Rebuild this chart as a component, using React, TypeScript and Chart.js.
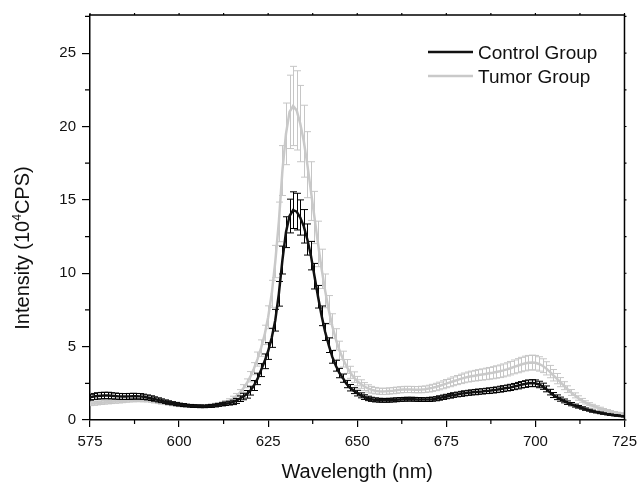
import React, { useEffect, useRef } from "react";
import { Chart, registerables } from "chart.js";

Chart.register(...registerables);

const WL_START = 575;
const WL_END = 725;
const wavelengths: number[] = Array.from({ length: WL_END - WL_START + 1 }, (_, i) => WL_START + i);

const controlMean: number[] = [
  1.55, 1.6, 1.64, 1.66, 1.67, 1.67, 1.65, 1.63, 1.61, 1.6, 1.6, 1.61, 1.62, 1.62, 1.61, 1.58,
  1.54, 1.49, 1.43, 1.37, 1.31, 1.25, 1.19, 1.14, 1.09, 1.05, 1.02, 0.99, 0.97, 0.95, 0.94, 0.93, 0.93, 0.94, 0.96, 0.99,
  1.03, 1.07, 1.11, 1.15, 1.2, 1.3, 1.45, 1.6, 1.75, 2.0,
  2.35, 2.8, 3.4, 4.0, 4.7, 5.6, 6.8, 8.6, 10.9, 12.8, 13.9,
  14.3, 14.2, 13.8, 13.2, 12.3, 11.2, 9.8, 8.4, 7.1,
  6.0, 5.1, 4.3, 3.7, 3.2, 2.85, 2.45, 2.2, 2.0, 1.83,
  1.68, 1.56, 1.47, 1.41, 1.37, 1.35, 1.34, 1.34, 1.35, 1.36, 1.38, 1.4, 1.41, 1.42, 1.42, 1.41, 1.4, 1.39, 1.39, 1.4,
  1.42, 1.45, 1.5, 1.55, 1.6, 1.65, 1.7, 1.74, 1.78, 1.82, 1.85, 1.88, 1.9, 1.93, 1.95, 1.98, 2.0, 2.03, 2.06, 2.1,
  2.14, 2.18, 2.22, 2.28, 2.34, 2.4, 2.45, 2.5, 2.52, 2.5,
  2.42, 2.3, 2.12, 1.9, 1.7, 1.55, 1.42, 1.3, 1.18, 1.08,
  0.98, 0.9, 0.82, 0.74, 0.67, 0.6, 0.54, 0.49, 0.44, 0.4, 0.36, 0.33, 0.3, 0.27, 0.25,
];

const controlErr: number[] = [
  0.2, 0.21, 0.22, 0.22, 0.22, 0.22, 0.21, 0.21, 0.2, 0.2, 0.2, 0.2, 0.2, 0.19, 0.19, 0.18,
  0.17, 0.16, 0.15, 0.14, 0.13, 0.12, 0.12, 0.11, 0.11, 0.1, 0.1, 0.09, 0.09, 0.09, 0.09, 0.09, 0.09, 0.09, 0.1, 0.1,
  0.1, 0.11, 0.12, 0.13, 0.15, 0.17, 0.19, 0.22, 0.26, 0.3,
  0.34, 0.39, 0.44, 0.5, 0.57, 0.65, 0.74, 0.84, 0.95, 1.05, 1.15,
  1.25, 1.25, 1.2, 1.14, 1.06, 0.97, 0.87, 0.77, 0.67,
  0.58, 0.5, 0.43, 0.37, 0.32, 0.28, 0.25, 0.22, 0.2, 0.19,
  0.17, 0.16, 0.15, 0.14, 0.14, 0.13, 0.13, 0.13, 0.13, 0.13, 0.13, 0.13, 0.13, 0.13, 0.13, 0.13, 0.13, 0.13, 0.13, 0.14,
  0.14, 0.14, 0.15, 0.15, 0.15, 0.16, 0.16, 0.16, 0.17, 0.17, 0.17, 0.17, 0.18, 0.18, 0.18, 0.18, 0.19, 0.19, 0.19, 0.2,
  0.2, 0.2, 0.21, 0.21, 0.22, 0.22, 0.23, 0.23, 0.23, 0.23,
  0.22, 0.21, 0.2, 0.19, 0.17, 0.16, 0.14, 0.13, 0.12, 0.11,
  0.1, 0.09, 0.08, 0.08, 0.07, 0.07, 0.06, 0.06, 0.05, 0.05, 0.05, 0.04, 0.04, 0.04, 0.04,
];

const tumorMean: number[] = [
  1.1, 1.12, 1.15, 1.18, 1.2, 1.22, 1.24, 1.26, 1.28, 1.3, 1.32, 1.34, 1.35, 1.36, 1.36, 1.35,
  1.33, 1.3, 1.26, 1.22, 1.18, 1.14, 1.1, 1.06, 1.03, 1.0, 0.98, 0.96, 0.95, 0.94, 0.94, 0.94, 0.95, 0.97, 1.0, 1.04,
  1.07, 1.12, 1.2, 1.3, 1.45, 1.62, 1.85, 2.15, 2.5, 2.95,
  3.5, 4.15, 4.9, 5.8, 7.0, 8.6, 10.8, 13.5, 17.0, 19.5, 21.0,
  21.4, 21.1, 20.2, 19.0, 17.4, 15.6, 13.8, 12.0, 10.3,
  8.8, 7.5, 6.4, 5.5, 4.75, 4.15, 3.65, 3.25, 2.92, 2.65,
  2.45, 2.28, 2.15, 2.06, 2.0, 1.96, 1.95, 1.96, 1.98, 2.0, 2.03, 2.06, 2.08, 2.08, 2.08, 2.07, 2.07, 2.08, 2.1, 2.14,
  2.19, 2.25, 2.32, 2.4, 2.48, 2.56, 2.64, 2.72, 2.8, 2.87, 2.93, 2.98, 3.02, 3.06, 3.1, 3.14, 3.18, 3.22, 3.27, 3.32,
  3.38, 3.45, 3.53, 3.62, 3.7, 3.78, 3.85, 3.9, 3.92, 3.9,
  3.82, 3.7, 3.52, 3.3, 3.05, 2.82, 2.58, 2.34, 2.1, 1.88,
  1.68, 1.5, 1.34, 1.2, 1.08, 0.98, 0.89, 0.8, 0.72, 0.65, 0.59, 0.53, 0.48, 0.44, 0.4,
];

const tumorErr: number[] = [
  0.12, 0.12, 0.12, 0.12, 0.12, 0.12, 0.12, 0.12, 0.12, 0.12, 0.11, 0.11, 0.11, 0.11, 0.11, 0.11,
  0.1, 0.1, 0.1, 0.1, 0.1, 0.09, 0.09, 0.09, 0.09, 0.09, 0.09, 0.09, 0.08, 0.08, 0.08, 0.08, 0.08, 0.09, 0.09, 0.1,
  0.11, 0.12, 0.13, 0.15, 0.17, 0.19, 0.22, 0.26, 0.3, 0.35,
  0.41, 0.48, 0.56, 0.66, 0.78, 0.92, 1.1, 1.35, 1.7, 2.1, 2.5,
  2.7, 2.7, 2.6, 2.45, 2.25, 2.0, 1.78, 1.55, 1.34,
  1.15, 0.98, 0.84, 0.72, 0.62, 0.54, 0.47, 0.41, 0.36, 0.32,
  0.29, 0.27, 0.25, 0.23, 0.22, 0.21, 0.21, 0.21, 0.21, 0.21, 0.21, 0.21, 0.21, 0.21, 0.21, 0.21, 0.21, 0.22, 0.22, 0.23,
  0.24, 0.25, 0.26, 0.27, 0.28, 0.29, 0.3, 0.31, 0.32, 0.33, 0.34, 0.35, 0.36, 0.37, 0.38, 0.39, 0.4, 0.41, 0.42, 0.43,
  0.44, 0.45, 0.46, 0.47, 0.48, 0.49, 0.5, 0.5, 0.5, 0.5,
  0.49, 0.47, 0.45, 0.42, 0.39, 0.35, 0.31, 0.27, 0.23, 0.2,
  0.17, 0.15, 0.13, 0.11, 0.1, 0.09, 0.08, 0.07, 0.06, 0.06, 0.05, 0.05, 0.05, 0.05, 0.05,
];

const xMajorTicks = [575, 600, 625, 650, 675, 700, 725];
const xMinorTicks = [587.5, 612.5, 637.5, 662.5, 687.5, 712.5];
const yMajorTicks = [0, 5, 10, 15, 20, 25];
const yMinorTicks = [2.5, 7.5, 12.5, 17.5, 22.5, 27.5];
const seriesNames = ["Control Group", "Tumor Group"];
const xTitle = "Wavelength (nm)";

const FONT = "'Liberation Sans', Arial, Helvetica, sans-serif";
const CONTROL_COLOR = "#111111";
const TUMOR_COLOR = "#c9c9c9";

export default function App() {
  const ref = useRef<HTMLCanvasElement>(null);

  useEffect(() => {
    const canvas = ref.current;
    if (!canvas) return;

    const errorsByLabel: Record<string, number[]> = {
      [seriesNames[0]]: controlErr,
      [seriesNames[1]]: tumorErr,
    };

    const errorPlugin = {
      id: "errorBars",
      beforeDatasetDraw(chart: any, args: any) {
        const ds = chart.data.datasets[args.index];
        const errs = errorsByLabel[ds.label];
        if (!errs) return;
        const xs = chart.scales.x;
        const ys = chart.scales.y;
        const ctx = chart.ctx;
        const area = chart.chartArea;
        ctx.save();
        ctx.beginPath();
        ctx.rect(area.left, area.top, area.right - area.left, area.bottom - area.top);
        ctx.clip();
        ctx.strokeStyle = ds.errorColor;
        ctx.lineWidth = 1;
        const cap = 3.5;
        ds.data.forEach((p: any, i: number) => {
          const e = errs[i];
          const x = Math.round(xs.getPixelForValue(p.x)) + 0.5;
          const yt = ys.getPixelForValue(p.y + e);
          const yb = ys.getPixelForValue(p.y - e);
          ctx.beginPath();
          ctx.moveTo(x, yt);
          ctx.lineTo(x, yb);
          ctx.moveTo(x - cap, yt);
          ctx.lineTo(x + cap, yt);
          ctx.moveTo(x - cap, yb);
          ctx.lineTo(x + cap, yb);
          ctx.stroke();
        });
        ctx.restore();
      },
    };

    const decorPlugin = {
      id: "decor",
      afterDraw(chart: any) {
        const ctx = chart.ctx;
        const a = chart.chartArea;
        const xs = chart.scales.x;
        const ys = chart.scales.y;
        ctx.save();
        ctx.strokeStyle = "#000";
        ctx.lineWidth = 1.5;
        ctx.beginPath();
        ctx.moveTo(a.left, a.top);
        ctx.lineTo(a.right, a.top);
        ctx.lineTo(a.right, a.bottom);
        ctx.stroke();
        ctx.lineWidth = 1.2;
        ctx.beginPath();
        xMinorTicks.forEach((v) => {
          const x = xs.getPixelForValue(v);
          ctx.moveTo(x, a.bottom);
          ctx.lineTo(x, a.bottom + 4);
        });
        yMinorTicks.forEach((v) => {
          const y = ys.getPixelForValue(v);
          ctx.moveTo(a.left, y);
          ctx.lineTo(a.left - 5, y);
        });
        [...yMajorTicks, ...yMinorTicks].forEach((v) => {
          const y = ys.getPixelForValue(v);
          ctx.moveTo(a.right, y);
          ctx.lineTo(a.right + 2, y);
        });
        [...xMajorTicks, ...xMinorTicks].forEach((v) => {
          const x = xs.getPixelForValue(v);
          ctx.moveTo(x, a.top);
          ctx.lineTo(x, a.top - 2);
        });
        ctx.stroke();

        // x title
        ctx.fillStyle = "#111";
        ctx.font = `20px ${FONT}`;
        ctx.textAlign = "center";
        ctx.textBaseline = "alphabetic";
        ctx.fillText(xTitle, (a.left + a.right) / 2, 478);

        // y title with superscript
        const p1 = "Intensity (10";
        const sup = "4";
        const p2 = "CPS)";
        ctx.font = `20px ${FONT}`;
        const w1 = ctx.measureText(p1).width;
        const w3 = ctx.measureText(p2).width;
        ctx.font = `12px ${FONT}`;
        const w2 = ctx.measureText(sup).width;
        const total = w1 + w2 + w3;
        ctx.translate(29, 248);
        ctx.rotate(-Math.PI / 2);
        ctx.textAlign = "left";
        let cx = -total / 2;
        ctx.font = `20px ${FONT}`;
        ctx.fillText(p1, cx, 0);
        cx += w1;
        ctx.font = `12px ${FONT}`;
        ctx.fillText(sup, cx, -8);
        cx += w2;
        ctx.font = `20px ${FONT}`;
        ctx.fillText(p2, cx, 0);
        ctx.setTransform(1, 0, 0, 1, 0, 0);

        // legend
        const legendColors = [CONTROL_COLOR, TUMOR_COLOR];
        seriesNames.forEach((name, i) => {
          const yLine = 52 + i * 24;
          ctx.strokeStyle = legendColors[i];
          ctx.lineWidth = 2.5;
          ctx.beginPath();
          ctx.moveTo(428, yLine);
          ctx.lineTo(473, yLine);
          ctx.stroke();
          ctx.fillStyle = "#111";
          ctx.font = `19px ${FONT}`;
          ctx.textAlign = "left";
          ctx.fillText(name, 478, yLine + 7);
        });
        ctx.restore();
      },
    };

    const toPoints = (vals: number[]) => vals.map((v, i) => ({ x: wavelengths[i], y: v }));

    const chart = new Chart(canvas, {
      type: "line",
      data: {
        datasets: [
          {
            label: seriesNames[0],
            data: toPoints(controlMean),
            borderColor: CONTROL_COLOR,
            borderWidth: 2.5,
            pointRadius: 0,
            tension: 0,
            fill: false,
            order: 1,
            errorColor: "#000000",
          } as any,
          {
            label: seriesNames[1],
            data: toPoints(tumorMean),
            borderColor: TUMOR_COLOR,
            borderWidth: 2.5,
            pointRadius: 0,
            tension: 0,
            fill: false,
            order: 2,
            errorColor: "#c6c6c6",
          } as any,
        ],
      },
      options: {
        animation: false,
        responsive: false,
        maintainAspectRatio: false,
        layout: { padding: { top: 14, right: 13, left: 0, bottom: 0 } },
        plugins: { legend: { display: false }, tooltip: { enabled: false } },
        scales: {
          x: {
            type: "linear",
            min: WL_START,
            max: WL_END,
            afterBuildTicks: (s: any) => {
              s.ticks = xMajorTicks.map((v) => ({ value: v }));
            },
            ticks: {
              font: { family: FONT, size: 15 },
              color: "#111",
              padding: 6,
              maxRotation: 0,
              autoSkip: false,
            },
            grid: {
              display: true,
              drawOnChartArea: false,
              drawTicks: true,
              tickLength: 7,
              color: "#000",
              lineWidth: 1.2,
            },
            border: { display: true, color: "#000", width: 1.5 },
            afterFit: (s: any) => {
              s.height = 62;
            },
          },
          y: {
            type: "linear",
            min: 0,
            max: 27.6,
            afterBuildTicks: (s: any) => {
              s.ticks = yMajorTicks.map((v) => ({ value: v }));
            },
            ticks: {
              font: { family: FONT, size: 15 },
              color: "#111",
              padding: 6,
              autoSkip: false,
            },
            grid: {
              display: true,
              drawOnChartArea: false,
              drawTicks: true,
              tickLength: 8,
              color: "#000",
              lineWidth: 1.2,
            },
            border: { display: true, color: "#000", width: 1.5 },
            afterFit: (s: any) => {
              s.width = 90;
            },
          },
        },
      },
      plugins: [errorPlugin, decorPlugin],
    });

    return () => chart.destroy();
  }, []);

  return (
    <div style={{ position: "fixed", left: 0, top: 0, width: 643, height: 482, background: "#fff" }}>
      <canvas ref={ref} width={643} height={482} style={{ display: "block" }} />
    </div>
  );
}
